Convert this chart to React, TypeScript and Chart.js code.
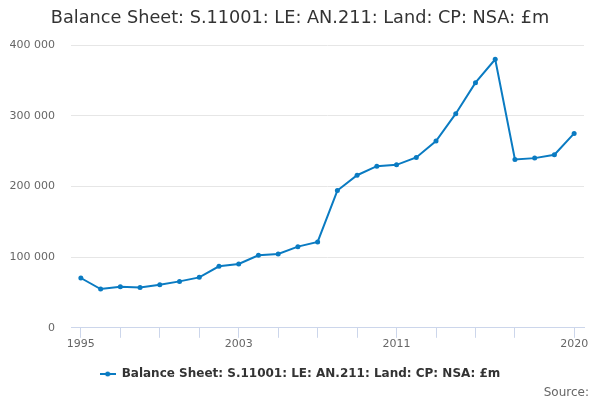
import { useEffect, useRef } from "react"
import { Chart, registerables, type ChartConfiguration } from "chart.js"

Chart.register(...registerables)

const years = [
  "1995", "1996", "1997", "1998", "1999", "2000", "2001", "2002", "2003",
  "2004", "2005", "2006", "2007", "2008", "2009", "2010", "2011", "2012",
  "2013", "2014", "2015", "2016", "2017", "2018", "2019", "2020",
]

// £m
const landValues = [
  70500, 54900, 58100, 57200, 61000, 65700, 71400, 87000, 90300,
  102600, 104500, 114900, 121500, 194300, 216000, 228800, 230700, 241100,
  264300, 303100, 347000, 380100, 238300, 240200, 245000, 275200,
]

const labelledYears = ["1995", "2003", "2011", "2020"]
const tickYears = [
  "1995", "1997", "1999", "2001", "2003", "2005", "2007", "2009", "2011",
  "2013", "2015", "2017", "2020",
]

const seriesName = "Balance Sheet: S.11001: LE: AN.211: Land: CP: NSA: £m"
const lineColor = "#0a7bc2"
const font = "'DejaVu Sans', sans-serif"

// little line-with-dot marker for the legend
const makeLegendMarker = () => {
  const c = document.createElement("canvas")
  c.width = 16
  c.height = 8
  const ctx = c.getContext("2d")!
  ctx.strokeStyle = lineColor
  ctx.lineWidth = 2
  ctx.beginPath()
  ctx.moveTo(0, 4)
  ctx.lineTo(16, 4)
  ctx.stroke()
  ctx.fillStyle = lineColor
  ctx.beginPath()
  ctx.arc(8, 4, 2.5, 0, Math.PI * 2)
  ctx.fill()
  return c
}

const sourcePlugin = {
  id: "sourceNote",
  afterDraw(chart: Chart) {
    const ctx = chart.ctx
    ctx.save()
    ctx.font = `12px ${font}`
    ctx.fillStyle = "#666666"
    ctx.textAlign = "right"
    ctx.textBaseline = "middle"
    ctx.fillText("Source:", 589, 393)
    ctx.restore()
  },
}

export default function App() {
  const canvasRef = useRef<HTMLCanvasElement>(null)

  useEffect(() => {
    if (!canvasRef.current) return

    const config: ChartConfiguration<"line"> = {
      type: "line",
      data: {
        labels: years,
        datasets: [
          {
            label: seriesName,
            data: landValues,
            borderColor: lineColor,
            backgroundColor: lineColor,
            pointBackgroundColor: lineColor,
            pointBorderWidth: 0,
            pointRadius: 2.5,
            borderWidth: 2,
            tension: 0,
            fill: false,
          },
        ],
      },
      options: {
        animation: false,
        responsive: true,
        maintainAspectRatio: false,
        layout: { padding: { left: 10, right: 10, bottom: 10 } },
        scales: {
          x: {
            type: "category",
            offset: true,
            grid: {
              offset: false,
              drawOnChartArea: false,
              tickLength: 10,
              color: (ctx: any) =>
                tickYears.includes(years[ctx.index]) ? "#ccd6eb" : "rgba(0,0,0,0)",
            },
            border: { display: true, color: "#ccd6eb", width: 1 },
            ticks: {
              autoSkip: false,
              maxRotation: 0,
              padding: 0,
              color: "#666666",
              font: { family: font, size: 11 },
              callback: (_v, i) => (labelledYears.includes(years[i]) ? years[i] : ""),
            },
          },
          y: {
            min: 0,
            max: 400000,
            afterFit: (scale) => {
              scale.width = 61
            },
            grid: { color: "#e6e6e6", drawTicks: false },
            border: { display: false },
            ticks: {
              stepSize: 100000,
              padding: 16,
              color: "#666666",
              font: { family: font, size: 11 },
              callback: (v) => Number(v).toLocaleString("en-US").replace(/,/g, " "),
            },
          },
          // empty spacer on the right so the plot ends short of the edge
          yRight: {
            position: "right",
            min: 0,
            max: 400000,
            afterFit: (scale) => {
              scale.width = 6
            },
            grid: { display: false },
            border: { display: false },
            ticks: { display: false },
          },
        },
        plugins: {
          title: {
            display: true,
            text: "Balance Sheet: S.11001: LE: AN.211: Land: CP: NSA: £m",
            color: "#333333",
            font: { family: font, size: 17.7, weight: "normal" },
            padding: { top: 8, bottom: 16 },
          },
          legend: {
            position: "bottom",
            labels: {
              usePointStyle: true,
              pointStyle: makeLegendMarker(),
              pointStyleWidth: 16,
              color: "#333333",
              font: { family: font, size: 12, weight: "bold" },
              padding: 17,
            },
          },
          tooltip: { enabled: false },
        },
      },
      plugins: [sourcePlugin],
    }

    const chart = new Chart(canvasRef.current, config)
    return () => chart.destroy()
  }, [])

  return (
    <div style={{ position: "absolute", left: 0, top: 0, width: 600, height: 400, background: "#fff" }}>
      <canvas ref={canvasRef}></canvas>
    </div>
  )
}
